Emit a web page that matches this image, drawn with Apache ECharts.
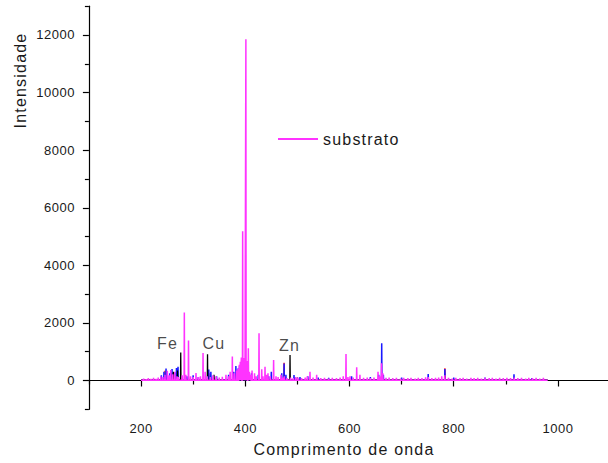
<!DOCTYPE html>
<html>
<head>
<meta charset="utf-8">
<script src="https://cdn.jsdelivr.net/npm/echarts@6/dist/echarts.min.js"></script>
<style>
  html, body { margin: 0; padding: 0; background: #fff; }
  #chart { width: 608px; height: 463px; }
  /* spaced lettering, as in the original plotting software */
  #chart text[style*="16px"] { letter-spacing: 1.2px; }
  #chart text[style*="13px"] { letter-spacing: 0.5px; }
</style>
</head>
<body>
<div id="chart"></div>
<script>
// Emission spectrum: wavelength (nm) vs. intensity (counts)

const xMajorTicks = [200, 400, 600, 800, 1000];
const xMinorTicks = [100, 300, 500, 700, 900, 1100];
const yMajorTicks = [0, 2000, 4000, 6000, 8000, 10000, 12000];
const yMinorTicks = [-1000, 1000, 3000, 5000, 7000, 9000, 11000, 13000];

// substrato: emission lines [wavelength, intensity]
const substratoLines = [
  [205, 70], [210, 50], [214, 80], [219, 60], [224, 90], [229, 60], [233, 100],
  [238, 150], [242, 120], [246, 200], [250.5, 340], [254, 180], [257, 365],
  [261, 220], [265, 300], [269, 150], [272, 120], [279, 180], [283.1, 2360],
  [286, 200], [291.1, 1385], [295, 150], [300, 120], [305.5, 260], [310, 120],
  [314, 150], [319, 956], [323, 300], [327, 150], [333, 120], [338, 180],
  [344, 150], [350, 100], [356, 130], [363, 200], [368, 150], [371, 300],
  [375.2, 830], [379, 250], [383, 350], [386, 400], [388.5, 550], [390.5, 650],
  [392.5, 800], [395, 5180], [397, 780], [399, 700], [401.2, 11850], [403.3, 680],
  [405.9, 1120], [408, 300], [410, 200], [413, 350], [417.8, 250], [421, 150],
  [426.4, 1640], [431.6, 390], [434, 150], [437.9, 480], [441, 200], [443.6, 250],
  [448, 150], [454.4, 713], [459, 150], [463, 120], [468.6, 200], [472, 100],
  [475, 150], [480, 80], [487, 100], [492, 80], [497, 120], [501, 100], [508, 80],
  [515, 100], [519, 150], [524.2, 300], [530, 100], [537, 200], [545, 80],
  [552, 90], [560, 70], [567, 90], [575, 80], [582, 100], [588, 150], [593.3, 920],
  [597, 120], [601, 150], [607, 100], [613.8, 460], [620, 200], [627, 90],
  [634, 100], [640, 80], [647, 100], [654.7, 300], [658, 150], [661.4, 600],
  [664, 250], [670, 90], [676, 100], [683, 80], [690, 90], [698, 70], [704, 90],
  [712, 80], [718, 90], [726, 70], [732, 90], [739, 80], [746, 110], [751, 120],
  [758, 80], [765, 90], [771, 100], [777, 150], [783, 180], [790, 90], [797, 70],
  [804, 90], [812, 80], [818, 90], [825, 70], [833, 90], [839, 80], [846, 90],
  [853, 70], [860, 90], [868, 80], [874, 90], [881, 70], [888, 90], [895, 80],
  [902, 90], [909, 80], [916, 100], [923, 80], [930, 90], [938, 70], [944, 90],
  [951, 80], [958, 90], [965, 70], [972, 90]
];
const substratoRange = [200, 980];
const substratoBase = 10;

// second spectrum (blue)
const blueLines = [
  [239, 180], [244, 300], [248, 420], [255, 250], [259.5, 400], [265, 280],
  [268, 430], [271, 480], [288, 150], [300, 180], [310, 120], [330, 380],
  [334, 300], [345, 150], [368, 200], [378, 300], [382, 500], [386, 420],
  [389, 500], [412, 250], [425, 200], [445, 150], [450, 300], [470, 250],
  [474.5, 590], [478, 200], [493.5, 190], [505, 120], [520, 150], [540, 100],
  [560, 90], [604, 150], [640, 120], [656, 200], [661.8, 1294], [665, 200],
  [700, 100], [751, 225], [783, 400], [800, 100], [860, 100], [915.6, 215],
  [950, 80]
];
// red spectrum
const redLines = [
  [246, 340], [258, 250], [330, 250], [474.5, 620], [783, 424]
];
// black spectrum
const blackLines = [
  [262, 300], [270, 350], [276.2, 970], [327.6, 910], [340, 200],
  [485.9, 887], [500, 100], [783, 150]
];
const spectrumRange = [200, 980];

// element labels [wavelength, intensity, text]
const elementLabels = [
  [250.8, 1270, 'Fe'],
  [340, 1270, 'Cu'],
  [484.9, 1200, 'Zn']
];

// turn a list of narrow emission lines into a polyline over a flat base
function lineProfile(lines, range, base) {
  const pts = [[range[0], base]];
  lines.forEach(function (l) {
    pts.push([l[0] - 0.45, base], [l[0], l[1]], [l[0] + 0.45, base]);
  });
  pts.push([range[1], base]);
  return pts;
}

const FONT = "'Liberation Sans', Arial, sans-serif";
const TEXT = '#1a1a1a';
const plain = function (v) { return String(v); };

function spectrumSeries(name, lines, range, base, color, width) {
  return {
    name: name,
    type: 'line',
    xAxisIndex: 0,
    yAxisIndex: 0,
    data: lineProfile(lines, range, base),
    symbol: 'none',
    silent: true,
    lineStyle: { color: color, width: width, join: 'bevel' },
    itemStyle: { color: color },
    emphasis: { disabled: true }
  };
}

const chart = echarts.init(document.getElementById('chart'), null, { renderer: 'svg' });

chart.setOption({
  animation: false,
  backgroundColor: '#fff',
  grid: { left: 88.9, right: -2.1, top: 6.2, bottom: 53.7, outerBoundsMode: 'none' },
  legend: {
    data: [{ name: 'substrato', icon: 'rect' }],
    left: 278,
    top: 131,
    padding: 0,
    itemWidth: 40,
    itemHeight: 2,
    itemStyle: { color: '#ff33ff' },
    textStyle: { fontSize: 16, color: TEXT, fontFamily: FONT },
    selectedMode: false
  },
  xAxis: [
    {
      type: 'value', min: 100, max: 1100,
      axisLine: { lineStyle: { color: '#000', width: 1.2 } },
      axisTick: { customValues: xMajorTicks, length: 6, lineStyle: { color: '#000', width: 1.2 } },
      axisLabel: { customValues: xMajorTicks, formatter: plain, margin: 13, fontSize: 13, color: TEXT, fontFamily: FONT },
      splitLine: { show: false }
    },
    {
      type: 'value', min: 100, max: 1100, position: 'bottom',
      axisLine: { show: false },
      axisTick: { customValues: xMinorTicks, length: 4, lineStyle: { color: '#000', width: 1.2 } },
      axisLabel: { show: false },
      splitLine: { show: false }
    }
  ],
  yAxis: [
    {
      type: 'value', min: -1000, max: 13000,
      axisLine: { show: true, lineStyle: { color: '#000', width: 1.2 } },
      axisTick: { show: true, customValues: yMajorTicks, length: 6, lineStyle: { color: '#000', width: 1.2 } },
      axisLabel: { customValues: yMajorTicks, formatter: plain, margin: 14, fontSize: 13, color: TEXT, fontFamily: FONT },
      splitLine: { show: false }
    },
    {
      type: 'value', min: -1000, max: 13000, position: 'left',
      axisLine: { show: false },
      axisTick: { show: true, customValues: yMinorTicks, length: 4, lineStyle: { color: '#000', width: 1.2 } },
      axisLabel: { show: false },
      splitLine: { show: false }
    }
  ],
  graphic: [
    {
      type: 'text', x: 20, y: 80.5, rotation: Math.PI / 2, silent: true,
      style: { text: 'Intensidade', fontSize: 16, fontFamily: FONT, fill: TEXT,
               align: 'center', verticalAlign: 'middle' }
    },
    {
      type: 'text', x: 344, y: 449, silent: true,
      style: { text: 'Comprimento de onda', fontSize: 16, fontFamily: FONT, fill: TEXT,
               align: 'center', verticalAlign: 'middle' }
    }
  ],
  series: [
    spectrumSeries('vermelho', redLines, spectrumRange, substratoBase, '#ff1a1a', 1.5),
    spectrumSeries('azul', blueLines, spectrumRange, substratoBase, '#1a1aff', 1.5),
    spectrumSeries('preto', blackLines, spectrumRange, substratoBase, '#000000', 1.3),
    spectrumSeries('substrato', substratoLines, substratoRange, substratoBase, '#ff33ff', 1.5),
    {
      name: 'elementos',
      type: 'scatter',
      silent: true,
      symbolSize: 1,
      itemStyle: { color: 'rgba(0,0,0,0)' },
      data: elementLabels.map(function (e) { return { value: [e[0], e[1]], name: e[2] }; }),
      label: {
        show: true, position: 'inside', formatter: '{b}',
        fontSize: 16, color: TEXT, fontFamily: FONT
      }
    }
  ]
});
</script>
</body>
</html>
